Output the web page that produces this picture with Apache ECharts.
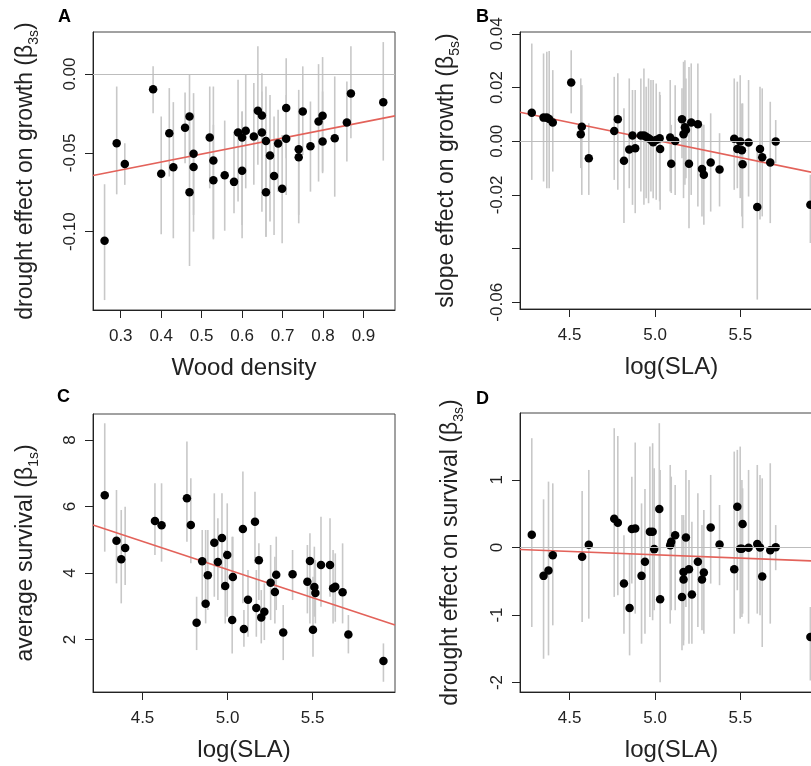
<!DOCTYPE html>
<html>
<head>
<meta charset="utf-8">
<script src="https://cdn.jsdelivr.net/npm/echarts@6.0.0/dist/echarts.min.js"></script>
<style>
  html, body { margin: 0; padding: 0; background: #fff; }
  #chart { width: 811px; height: 766px; }
</style>
</head>
<body>
<div id="chart"></div>
<script>
// A: wood density vs drought effect on growth
var xA = [0.260,0.290,0.310,0.380,0.400,0.420,0.430,0.459,0.470,0.470,0.480,0.480,0.520,0.529,0.529,0.557,0.580,0.590,0.600,0.600,0.609,0.629,0.639,0.649,0.649,0.659,0.659,0.669,0.679,0.689,0.699,0.709,0.709,0.740,0.740,0.750,0.769,0.789,0.799,0.799,0.829,0.859,0.869,0.949];
var yA = [-0.1057,-0.0439,-0.0570,-0.0096,-0.0633,-0.0375,-0.0591,-0.0341,-0.0269,-0.0750,-0.0506,-0.0589,-0.0403,-0.0549,-0.0674,-0.0642,-0.0684,-0.0371,-0.0403,-0.0614,-0.0360,-0.0396,-0.0233,-0.0263,-0.0371,-0.0424,-0.0750,-0.0517,-0.0646,-0.0441,-0.0727,-0.0216,-0.0411,-0.0477,-0.0528,-0.0237,-0.0458,-0.0301,-0.0265,-0.0428,-0.0407,-0.0307,-0.0123,-0.0178];
var hiA = [-0.0699,-0.0079,-0.0439,0.0049,-0.0269,-0.0089,-0.0178,-0.0117,0.0000,-0.0301,-0.0121,-0.0248,-0.0079,-0.0079,-0.0322,-0.0295,-0.0365,-0.0036,-0.0237,-0.0237,0.0000,-0.0057,0.0176,0.0006,-0.0110,-0.0079,-0.0407,-0.0132,-0.0269,-0.0227,-0.0386,0.0101,-0.0132,-0.0100,-0.0216,0.0049,-0.0174,0.0063,0.0108,-0.0110,-0.0015,-0.0047,0.0176,0.0203];
var loA = [-0.1434,-0.0763,-0.0703,-0.0248,-0.1017,-0.0650,-0.1042,-0.0566,-0.0534,-0.1218,-0.0894,-0.1000,-0.0725,-0.1049,-0.1042,-0.0994,-0.0883,-0.0809,-0.0958,-0.1042,-0.0725,-0.0703,-0.0576,-0.0735,-0.0873,-0.1032,-0.1032,-0.0936,-0.1021,-0.0746,-0.1074,-0.0534,-0.0767,-0.0894,-0.0947,-0.0513,-0.0746,-0.0682,-0.0619,-0.0629,-0.0778,-0.0555,-0.0407,-0.0549];
var fitAx = [0.2314, 0.978];
var fitAy = [-0.0644, -0.0265];

// B: log(SLA) vs slope effect on growth
var xB = [4.278,4.347,4.366,4.380,4.401,4.509,4.565,4.571,4.612,4.761,4.782,4.818,4.849,4.868,4.884,4.917,4.935,4.948,4.962,4.976,4.989,5.007,5.027,5.030,5.089,5.095,5.118,5.158,5.167,5.175,5.181,5.199,5.212,5.251,5.275,5.286,5.326,5.378,5.464,5.482,5.499,5.509,5.513,5.548,5.599,5.615,5.628,5.675,5.707,5.910];
var yB = [0.0106,0.0088,0.0088,0.0083,0.0070,0.0219,0.0026,0.0054,-0.0063,0.0038,0.0082,-0.0073,-0.0031,0.0021,-0.0026,0.0021,0.0021,0.0017,0.0011,0.0005,-0.0004,0.0005,0.0011,-0.0029,0.0014,-0.0084,0.0001,0.0082,0.0026,0.0052,0.0042,-0.0084,0.0070,0.0063,-0.0103,-0.0125,-0.0079,-0.0105,0.0009,-0.0029,-0.0001,-0.0034,-0.0086,-0.0005,-0.0245,-0.0029,-0.0060,-0.0079,-0.0001,-0.0237];
var hiB = [0.0364,0.0327,0.0333,0.0336,0.0265,0.0339,0.0234,0.0209,0.0067,0.0240,0.0253,0.0123,0.0234,0.0191,0.0191,0.0234,0.0271,0.0203,0.0234,0.0228,0.0228,0.0215,0.0184,0.0172,0.0228,0.0061,0.0209,0.0197,0.0296,0.0302,0.0234,0.0277,0.0290,0.0290,0.0061,0.0061,0.0104,0.0030,0.0234,0.0222,0.0246,0.0141,0.0141,0.0228,-0.0039,0.0203,0.0197,0.0147,0.0079,-0.0125];
var loB = [-0.0144,-0.0150,-0.0175,-0.0175,-0.0113,0.0104,-0.0100,-0.0200,-0.0200,-0.0144,-0.0181,-0.0305,-0.0175,-0.0237,-0.0268,-0.0187,-0.0237,-0.0212,-0.0231,-0.0187,-0.0212,-0.0218,-0.0224,-0.0255,-0.0187,-0.0193,-0.0200,-0.0063,-0.0212,-0.0162,-0.0138,-0.0324,-0.0200,-0.0243,-0.0280,-0.0311,-0.0262,-0.0243,-0.0181,-0.0175,-0.0212,-0.0280,-0.0324,-0.0206,-0.0590,-0.0292,-0.0280,-0.0305,-0.0082,-0.0379];
var fitBx = [4.209, 5.984];
var fitBy = [0.0108, -0.0124];

// C: log(SLA) vs average survival
var xC = [4.278,4.347,4.375,4.398,4.573,4.612,4.761,4.784,4.818,4.851,4.871,4.884,4.922,4.943,4.967,4.986,4.998,5.027,5.031,5.090,5.096,5.120,5.161,5.169,5.184,5.198,5.216,5.253,5.278,5.286,5.327,5.382,5.469,5.484,5.502,5.510,5.516,5.549,5.602,5.620,5.633,5.676,5.710,5.916];
var yC = [6.336,4.972,4.411,4.752,5.564,5.434,6.246,5.444,2.506,4.351,3.078,3.930,4.912,4.331,5.053,3.609,4.541,2.586,3.880,5.323,2.316,3.198,5.544,2.947,4.381,2.667,2.837,3.709,3.429,3.950,2.216,3.960,3.739,4.361,2.296,3.579,3.399,4.241,4.241,3.539,3.589,3.419,2.155,1.353];
var hiC = [8.501,6.496,5.895,5.995,6.697,6.697,7.950,6.847,3.288,5.293,5.293,5.293,6.396,5.644,6.396,4.692,6.095,5.093,5.093,7.048,2.887,4.090,6.446,4.090,4.892,3.489,3.689,4.842,4.491,5.093,3.038,4.692,4.842,5.193,3.890,4.792,4.391,5.694,5.644,4.692,4.591,4.892,2.737,1.885];
var loC = [4.642,3.689,3.088,3.639,4.541,4.341,4.942,4.291,1.684,3.088,2.486,2.887,3.288,3.188,3.489,2.486,2.687,1.584,2.687,3.088,1.784,2.085,4.291,2.085,3.188,1.885,1.985,2.586,2.486,2.887,1.383,3.188,2.787,2.486,1.484,2.687,2.486,2.987,3.288,2.486,2.536,2.486,1.584,0.732];
var fitCx = [4.209, 5.984];
var fitCy = [5.444, 2.436];

// D: log(SLA) vs drought effect on survival
var xD = [4.278,4.347,4.376,4.401,4.573,4.612,4.761,4.782,4.818,4.851,4.864,4.884,4.921,4.941,4.970,4.986,4.995,5.025,5.030,5.089,5.095,5.118,5.158,5.167,5.167,5.181,5.199,5.216,5.251,5.275,5.286,5.326,5.378,5.464,5.482,5.499,5.509,5.513,5.548,5.599,5.615,5.628,5.675,5.707,5.910];
var yD = [0.187,-0.421,-0.342,-0.114,-0.139,0.039,0.425,0.365,-0.535,-0.896,0.272,0.281,-0.421,-0.213,0.232,0.232,-0.025,0.568,-0.767,0.034,0.084,0.182,-0.732,-0.362,-0.475,0.148,-0.322,-0.698,-0.213,-0.475,-0.371,0.296,0.044,-0.322,0.603,-0.020,-0.020,0.346,-0.005,0.049,0.000,-0.431,-0.040,0.004,-1.326];
var hiD = [1.617,0.712,0.974,0.949,0.835,1.147,1.765,1.651,0.182,-0.090,1.048,1.553,0.652,0.865,1.493,1.543,1.172,1.839,1.147,1.221,1.048,0.924,0.479,0.479,0.405,1.147,0.999,0.380,0.801,0.331,0.553,1.073,0.628,1.419,1.444,1.493,0.999,0.875,1.147,1.221,1.073,1.023,1.246,0.331,-0.881];
var loD = [-1.178,-1.648,-1.598,-1.153,-1.103,-1.054,-0.732,-0.708,-1.277,-1.598,-0.535,-0.980,-1.425,-1.277,-1.029,-1.078,-0.930,-0.708,-1.994,-1.128,-0.930,-0.930,-1.523,-1.375,-1.450,-0.881,-1.425,-1.425,-1.178,-1.227,-1.277,-0.535,-0.559,-1.277,-0.634,-1.054,-1.029,-0.980,-1.128,-0.980,-1.004,-1.474,-1.128,-0.337,-1.969];
var fitDx = [4.209, 5.984];
var fitDy = [-0.030, -0.206];

// tick positions
var ticksAx = [0.3, 0.4, 0.5, 0.6, 0.7, 0.8, 0.9];
var ticksAy = [-0.10, -0.05, 0.00];
var ticksSla = [4.5, 5.0, 5.5];
var ticksBy = [-0.06, -0.04, -0.02, 0.00, 0.02, 0.04];
var labelsBy = [-0.06, -0.02, 0.00, 0.02, 0.04];
var ticksCy = [2, 4, 6, 8];
var ticksDy = [-2, -1, 0, 1];

var FONT = '"Liberation Sans", Arial, Helvetica, sans-serif';
var TXT = '#222';

var chart = echarts.init(document.getElementById('chart'));

function grid(left, top, width, height) {
  return {
    left: left, top: top, width: width, height: height,
    show: true, borderColor: '#444', borderWidth: 1,
    outerBoundsMode: 'none'
  };
}

function xAxis(i, min, max, ticks, dec, name) {
  return {
    gridIndex: i, type: 'value', min: min, max: max,
    name: name, nameLocation: 'middle', nameGap: 46,
    nameTextStyle: { fontSize: 24, color: TXT, fontFamily: FONT },
    axisLine: { show: true, onZero: false, lineStyle: { color: '#222', width: 1 } },
    axisTick: { show: true, length: 8, customValues: ticks, lineStyle: { color: '#222' } },
    axisLabel: {
      customValues: ticks, fontSize: 17, color: TXT, fontFamily: FONT, margin: 18,
      formatter: function (v) { return v.toFixed(dec); }
    },
    splitLine: { show: false }
  };
}

function yAxis(i, min, max, ticks, labels, dec, name, gap) {
  return {
    gridIndex: i, type: 'value', min: min, max: max,
    name: name, nameLocation: 'middle', nameGap: gap, nameRotate: 90,
    nameTextStyle: {
      fontSize: 23, color: TXT, fontFamily: FONT, lineHeight: 30,
      rich: { s: { fontSize: 14, color: TXT, fontFamily: FONT, verticalAlign: 'bottom' } }
    },
    axisLine: { show: true, onZero: false, lineStyle: { color: '#222', width: 1 } },
    axisTick: { show: true, length: 8, customValues: ticks, lineStyle: { color: '#222' } },
    axisLabel: {
      customValues: labels, rotate: 90, fontSize: 17, color: TXT, fontFamily: FONT, margin: 14,
      formatter: function (v) { return v.toFixed(dec); }
    },
    splitLine: { show: false }
  };
}

function panelSeries(i, xs, ys, lo, hi, fx, fy, zeroLine) {
  // vertical interval bars
  var bars = {
    type: 'custom', xAxisIndex: i, yAxisIndex: i, z: 1,
    data: xs.map(function (v, k) { return [v, lo[k], hi[k]]; }),
    encode: { x: 0, y: [1, 2] },
    renderItem: function (params, api) {
      var p1 = api.coord([api.value(0), api.value(1)]);
      var p2 = api.coord([api.value(0), api.value(2)]);
      return {
        type: 'line',
        shape: { x1: p1[0], y1: p1[1], x2: p2[0], y2: p2[1] },
        style: { stroke: '#c8c8c8', lineWidth: 1.6 }
      };
    }
  };
  if (zeroLine) {
    bars.markLine = {
      silent: true, symbol: ['none', 'none'], label: { show: false },
      lineStyle: { color: '#bdbdbd', width: 1, type: 'solid' },
      data: [{ yAxis: 0 }]
    };
  }
  var fit = {
    type: 'line', xAxisIndex: i, yAxisIndex: i, z: 2,
    data: [[fx[0], fy[0]], [fx[1], fy[1]]],
    showSymbol: false, lineStyle: { color: '#e3625a', width: 1.6 }
  };
  var pts = {
    type: 'scatter', xAxisIndex: i, yAxisIndex: i, z: 3,
    data: xs.map(function (v, k) { return [v, ys[k]]; }),
    symbolSize: 8.5, itemStyle: { color: '#000', opacity: 1 }
  };
  return [bars, fit, pts];
}

var option = {
  animation: false,
  backgroundColor: '#fff',
  grid: [
    grid(93, 32, 302, 278),
    grid(520, 32, 303, 277),
    grid(93, 414, 302, 278),
    grid(520, 413, 303, 279)
  ],
  xAxis: [
    xAxis(0, 0.2314, 0.978, ticksAx, 1, 'Wood density'),
    xAxis(1, 4.209, 5.984, ticksSla, 1, 'log(SLA)'),
    xAxis(2, 4.209, 5.984, ticksSla, 1, 'log(SLA)'),
    xAxis(3, 4.209, 5.984, ticksSla, 1, 'log(SLA)')
  ],
  yAxis: [
    yAxis(0, -0.1497, 0.0267, ticksAy, ticksAy, 2, 'drought effect on growth (β{s|3s})', 52),
    yAxis(1, -0.0625, 0.0407, ticksBy, labelsBy, 2, 'slope effect on growth (β{s|5s})', 58),
    yAxis(2, 0.424, 8.78, ticksCy, ticksCy, 0, 'average survival (β{s|1s})', 52),
    yAxis(3, -2.14, 1.99, ticksDy, ticksDy, 0, 'drought effect on survival (β{s|3s})', 54)
  ],
  series: [].concat(
    panelSeries(0, xA, yA, loA, hiA, fitAx, fitAy, true),
    panelSeries(1, xB, yB, loB, hiB, fitBx, fitBy, true),
    panelSeries(2, xC, yC, loC, hiC, fitCx, fitCy, false),
    panelSeries(3, xD, yD, loD, hiD, fitDx, fitDy, true)
  ),
  graphic: [
    { type: 'text', left: 58, top: 8, style: { text: 'A', font: 'bold 18px ' + FONT, fill: '#000' } },
    { type: 'text', left: 476, top: 8, style: { text: 'B', font: 'bold 18px ' + FONT, fill: '#000' } },
    { type: 'text', left: 57, top: 388, style: { text: 'C', font: 'bold 18px ' + FONT, fill: '#000' } },
    { type: 'text', left: 476, top: 390, style: { text: 'D', font: 'bold 18px ' + FONT, fill: '#000' } }
  ]
};

chart.setOption(option);
window.addEventListener('resize', function () { chart.resize(); });
</script>
</body>
</html>
